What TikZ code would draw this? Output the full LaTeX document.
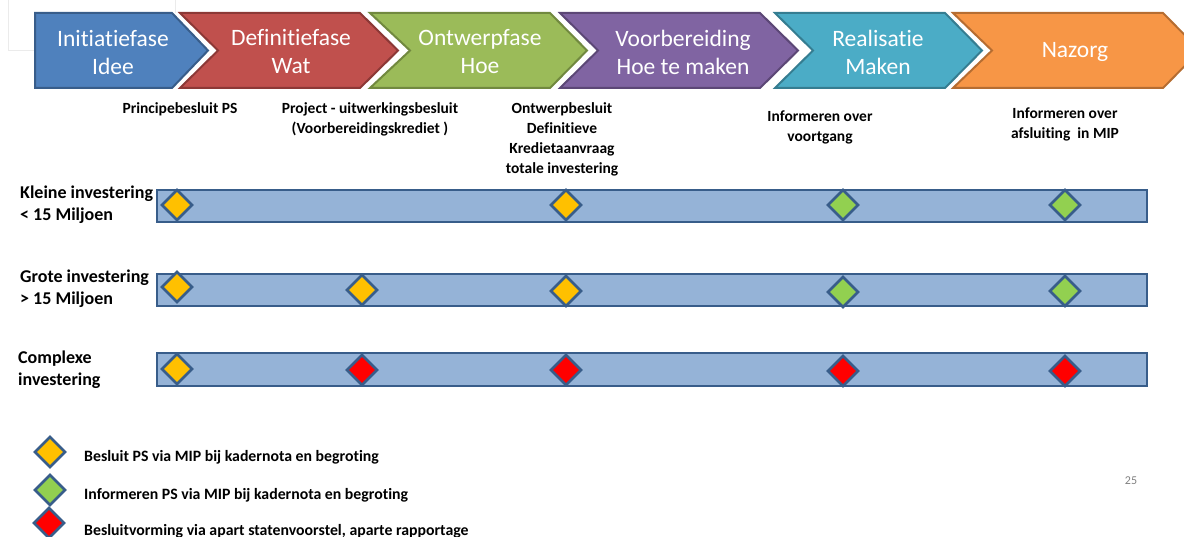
\documentclass[tikz,border=0pt]{standalone}
\usepackage{fontspec}
\setmainfont[Ligatures={NoCommon}]{Carlito}
\definecolor{cBlue}{HTML}{4F81BD}\definecolor{eBlue}{HTML}{385D8A}
\definecolor{cRed}{HTML}{C0504D}\definecolor{eRed}{HTML}{8C3836}
\definecolor{cGreen}{HTML}{9BBB59}\definecolor{eGreen}{HTML}{71893F}
\definecolor{cPurple}{HTML}{8064A2}\definecolor{ePurple}{HTML}{5C4776}
\definecolor{cTeal}{HTML}{4BACC6}\definecolor{eTeal}{HTML}{357D91}
\definecolor{cOrange}{HTML}{F79646}\definecolor{eOrange}{HTML}{B66D31}
\definecolor{barFill}{HTML}{95B3D7}
\definecolor{dYellow}{HTML}{FFC000}
\definecolor{dGreen}{HTML}{92D050}
\definecolor{dRed}{HTML}{FF0000}
\tikzset{
  phasetext/.style={text=white,align=center,font=\fontsize{23.5}{28}\selectfont,inner sep=0pt},
  milestone/.style={align=center,font=\bfseries\fontsize{15.5}{20}\selectfont,inner sep=0pt,anchor=north},
  rowlabel/.style={align=left,font=\bfseries\fontsize{18}{22}\selectfont,inner sep=0pt,anchor=north west},
  legendtext/.style={font=\bfseries\fontsize{15.8}{18}\selectfont,inner sep=0pt,anchor=west},
  bar/.style={draw=eBlue,fill=barFill,line width=2.6pt},
  gem/.style={draw=eBlue,line width=2.6pt,line join=miter},
}
% chevron: #1 left, #2 notch depth, #3 shoulder, #4 tip, #5 fill, #6 edge
\newcommand{\chev}[6]{%
  \draw[fill=#5,draw=#6,line width=2pt,line join=miter]
    (#1,13) -- (#3,13) -- (#4,50.5) -- (#3,88) -- (#1,88) -- ({#1+#2},50.5) -- cycle;}
% diamond marker centred at (#1,#2), filled with #3
\newcommand{\gem}[3]{%
  \draw[gem,fill=#3] (#1,{#2-15}) -- ({#1+15},#2) -- (#1,{#2+15}) -- ({#1-15},#2) -- cycle;}
\begin{document}
\begin{tikzpicture}[x=1pt,y=-1pt]
\useasboundingbox (0,0) rectangle (1184,537);
\clip (0,0) rectangle (1184,537);
% faint frame behind the first phase
\draw[black!8,line width=0.8pt] (8,0) -- (8,50) -- (35,50);
\draw[black!8,line width=0.8pt] (175,0) -- (175,13);

% phase chevrons
\chev{35}{0}{172}{208}{cBlue}{eBlue}
\chev{180}{38}{360}{398}{cRed}{eRed}
\chev{370}{40}{550}{587}{cGreen}{eGreen}
\chev{560}{38}{760}{798}{cPurple}{ePurple}
\chev{775}{38}{945}{982}{cTeal}{eTeal}
\chev{953}{39}{1163}{1200}{cOrange}{eOrange}
\node[phasetext] (p1) at (113,52) {Initiatiefase\\Idee};
\node[phasetext] (p2) at (291,52) {Definitiefase\\Wat};
\node[phasetext] (p3) at (480,52) {Ontwerpfase\\Hoe};
\node[phasetext] (p4) at (683,52) {Voorbereiding\\Hoe te maken};
\node[phasetext] (p5) at (878,52) {Realisatie\\Maken};
\node[phasetext] (p6) at (1075,52) {Nazorg};

% milestone captions
\node[milestone] (m1) at (180,102) {Principebesluit PS};
\node[milestone] (m2) at (370,102) {Project - uitwerkingsbesluit\\(Voorbereidingskrediet )};
\node[milestone] (m3) at (562,102) {Ontwerpbesluit\\Definitieve\\Kredietaanvraag\\totale investering};
\node[milestone] (m4) at (820,111) {Informeren over\\voortgang};
\node[milestone] (m5) at (1065,108) {Informeren over\\afsluiting\ \ in MIP};

% investment rows
\node[rowlabel] (r1) at (20,186) {Kleine investering\\< 15 Miljoen};
\node[rowlabel] (r2) at (20,270) {Grote investering\\> 15 Miljoen};
\node[rowlabel] (r3) at (18,351) {Complexe\\investering};

\draw[bar] (157,190) rectangle (1147,222);
\draw[bar] (157,274) rectangle (1147,306);
\draw[bar] (157,353) rectangle (1147,386);

\gem{177}{205}{dYellow}
\gem{566}{205}{dYellow}
\gem{843}{205}{dGreen}
\gem{1065}{205}{dGreen}

\gem{177}{287}{dYellow}
\gem{362}{290}{dYellow}
\gem{566}{291}{dYellow}
\gem{843}{292}{dGreen}
\gem{1065}{291}{dGreen}

\gem{177}{369}{dYellow}
\gem{362}{370}{dRed}
\gem{566}{370}{dRed}
\gem{843}{371}{dRed}
\gem{1065}{371}{dRed}

% legend
\gem{50}{452}{dYellow}
\gem{50}{490}{dGreen}
\gem{49}{523}{dRed}
\node[legendtext] (l1) at (84,457) {Besluit PS via MIP bij kadernota en begroting};
\node[legendtext] (l2) at (84,495) {Informeren PS via MIP bij kadernota en begroting};
\node[legendtext] (l3) at (84,531) {Besluitvorming via apart statenvoorstel, aparte rapportage};

\node[text=black!50,font=\fontsize{12}{14}\selectfont,inner sep=0pt] (pg) at (1131,481) {25};
\end{tikzpicture}
\end{document}
